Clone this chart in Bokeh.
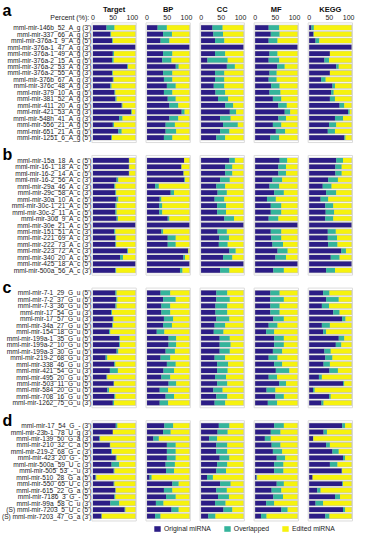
from bokeh.plotting import figure
from bokeh.models import ColumnDataSource, Range1d, Legend, LegendItem
from bokeh.core.properties import value
from bokeh.embed import file_html
from bokeh.resources import INLINE

columns = ["Target", "BP", "CC", "MF", "KEGG"]
panel_letters = ["a", "b", "c", "d"]
series_names = ["Original miRNA", "Overlapped", "Edited miRNA"]
x_ticks = [0, 50, 100]

a_labels = ["mml-mir-146b_52_A_g (3')", "mml-mir-337_66_A_g (3')", "mml-mir-376a-1_9_A_g (5')",
            "mml-mir-376a-1_47_A_g (3')", "mml-mir-376a-1_49_A_g (3')", "mml-mir-376a-2_15_A_g (5')",
            "mml-mir-376a-2_53_A_g (3')", "mml-mir-376a-2_55_A_g (3')", "mml-mir-376b_67_A_g (3')",
            "mml-mir-376c_48_A_g (3')", "mml-mir-379_10_A_g (5')", "mml-mir-381_52_A_g (3')",
            "mml-mir-411_20_A_g (5')", "mml-mir-421_53_A_g (3')", "mml-mir-548h_41_A_g (3')",
            "mml-mir-556_21_A_g (5')", "mml-mir-651_21_A_g (5')", "mml-mir-1251_6_A_g (5')"]
b_labels = ["mml-mir-15a_18_A_c (5')", "mml-mir-16-1_18_A_c (5')", "mml-mir-16-2_14_A_c (5')",
            "mml-mir-16-2_56_A_c (3')", "mml-mir-29a_46_A_c (3')", "mml-mir-29c_58_A_c (3')",
            "mml-mir-30a_10_A_c (5')", "mml-mir-30c-1_21_A_c (5')", "mml-mir-30c-2_11_A_c (5')",
            "mml-mir-30d_9_A_c (5')", "mml-mir-30e_21_A_c (5')", "mml-mir-151_51_A_c (3')",
            "mml-mir-221_69_A_c (3')", "mml-mir-222_73_A_c (3')", "mml-mir-223_72_A_c (3')",
            "mml-mir-340_20_A_c (5')", "mml-mir-425_18_A_c (5')", "mml-mir-500a_56_A_c (3')"]
c_labels = ["mml-mir-7-1_29_G_u (5')", "mml-mir-7-2_37_G_u (5')", "mml-mir-7-3_36_G_u (5')",
            "mml-mir-17_54_G_u (3')", "mml-mir-17_57_G_u (3')", "mml-mir-34a_27_G_u (5')",
            "mml-mir-154_18_G_u (5')", "mml-mir-199a-1_35_G_u (5')", "mml-mir-199a-2_10_G_u (5')",
            "mml-mir-199a-3_30_G_u (5')", "mml-mir-219-2_68_G_u (3')", "mml-mir-338_46_G_u (3')",
            "mml-mir-421_54_G_u (3')", "mml-mir-495_20_G_u (5')", "mml-mir-503_11_G_u (5')",
            "mml-mir-584_20_G_u (5')", "mml-mir-708_16_G_u (5')", "mml-mir-1262_75_G_u (3')"]
d_labels = ["mml-mir-17_54_G_- (3')", "mml-mir-23b-1_78_U_g (3')", "mml-mir-139_50_G_a (3')",
            "mml-mir-210_32_C_a (5')", "mml-mir-219-2_68_G_c (3')", "mml-mir-423_20_G_- (5')",
            "mml-mir-500a_59_U_c (3')", "mml-mir-505_53_-_u (3')", "mml-mir-510_28_G_a (5')",
            "mml-mir-550_65_U_c (3')", "mml-mir-615_22_G_a (5')", "mml-mir-7186_3_G_- (5')",
            "mml-mir-99a_58_C_u (3')", "(S) mml-mir-7203_5_U_c (5')", "(S) mml-mir-7203_47_G_a (3')"]

# Percent of original miRNA targets/terms and of overlapped ones (edited = remainder)
a_target_orig = [32, 41, 45, 100, 47, 45, 81, 45, 47, 41, 51, 53, 68, 90, 62, 47, 60, 43]
a_target_over = [19, 2, 2, 0, 3, 4, 2, 2, 2, 3, 2, 3, 2, 2, 8, 3, 8, 2]
a_bp_orig = [25, 38, 32, 100, 38, 36, 68, 38, 40, 47, 40, 49, 53, 82, 53, 44, 44, 40]
a_bp_over = [22, 21, 21, 0, 22, 22, 7, 22, 20, 21, 20, 19, 21, 7, 21, 22, 25, 20]
a_cc_orig = [27, 29, 33, 100, 33, 15, 61, 33, 33, 30, 34, 40, 57, 68, 45, 52, 45, 36]
a_cc_over = [24, 23, 22, 0, 24, 48, 19, 22, 22, 25, 23, 24, 19, 15, 25, 35, 22, 21]
a_mf_orig = [32, 37, 32, 100, 34, 32, 52, 34, 32, 38, 34, 42, 55, 70, 55, 42, 49, 36]
a_mf_over = [25, 21, 21, 0, 19, 25, 18, 17, 19, 20, 26, 20, 20, 13, 18, 20, 22, 21]
a_kegg_orig = [5, 10, 15, 100, 49, 36, 64, 49, 28, 55, 52, 49, 72, 92, 61, 47, 44, 83]
a_kegg_over = [6, 1, 9, 0, 0, 11, 6, 0, 11, 6, 6, 12, 11, 4, 19, 17, 17, 3]

b_target_orig = [85, 85, 85, 56, 50, 53, 56, 53, 53, 56, 100, 50, 53, 53, 81, 64, 100, 53]
b_target_over = [1, 1, 1, 4, 3, 2, 4, 3, 3, 3, 0, 3, 2, 2, 2, 7, 0, 2]
b_bp_orig = [88, 81, 86, 88, 19, 56, 30, 29, 29, 49, 100, 34, 49, 49, 97, 86, 100, 78]
b_bp_over = [0, 1, 1, 2, 9, 8, 4, 7, 7, 4, 0, 4, 19, 19, 1, 4, 0, 6]
b_cc_orig = [67, 57, 57, 45, 36, 39, 32, 38, 38, 55, 100, 39, 43, 42, 67, 52, 100, 45]
b_cc_over = [13, 17, 17, 23, 21, 22, 23, 21, 21, 23, 0, 22, 23, 21, 15, 22, 0, 22]
b_mf_orig = [58, 55, 55, 41, 34, 45, 28, 37, 37, 32, 100, 37, 38, 41, 53, 48, 100, 43]
b_mf_over = [18, 18, 18, 23, 23, 23, 21, 25, 25, 23, 0, 25, 24, 25, 24, 25, 0, 25]
b_kegg_orig = [64, 62, 62, 45, 32, 40, 27, 38, 39, 38, 100, 44, 44, 45, 76, 51, 100, 40]
b_kegg_over = [16, 15, 15, 23, 21, 24, 18, 19, 20, 19, 0, 19, 22, 22, 11, 21, 0, 21]

c_target_orig = [53, 55, 53, 43, 47, 45, 38, 62, 62, 56, 30, 50, 40, 32, 49, 34, 50, 47]
c_target_over = [3, 3, 3, 2, 2, 2, 3, 2, 2, 4, 4, 3, 19, 2, 1, 4, 3, 3]
c_bp_orig = [32, 38, 34, 34, 40, 38, 23, 51, 51, 44, 32, 47, 39, 34, 51, 30, 44, 30]
c_bp_over = [23, 30, 21, 21, 22, 21, 18, 18, 18, 22, 23, 21, 25, 21, 18, 20, 20, 20]
c_cc_orig = [36, 36, 34, 34, 36, 32, 30, 44, 44, 44, 32, 38, 38, 33, 38, 29, 36, 32]
c_cc_over = [26, 32, 28, 28, 31, 25, 23, 24, 26, 24, 25, 26, 25, 26, 24, 22, 26, 25]
c_mf_orig = [36, 36, 36, 36, 43, 32, 26, 45, 45, 42, 32, 45, 49, 32, 57, 27, 48, 30]
c_mf_over = [22, 32, 22, 22, 25, 21, 19, 23, 23, 22, 21, 19, 32, 20, 16, 21, 20, 22]
c_kegg_orig = [33, 40, 30, 57, 78, 30, 33, 70, 63, 36, 38, 34, 48, 23, 80, 9, 47, 29]
c_kegg_over = [15, 30, 17, 15, 8, 19, 7, 13, 13, 15, 17, 15, 20, 7, 3, 4, 4, 5]

d_target_orig = [54, 47, 15, 40, 43, 54, 44, 49, 6, 49, 53, 50, 41, 75, 20]
d_target_over = [4, 0, 2, 1, 2, 2, 18, 2, 2, 2, 1, 3, 21, 2, 1]
d_bp_orig = [41, 38, 15, 47, 47, 47, 44, 45, 6, 60, 40, 45, 21, 58, 19]
d_bp_over = [21, 18, 13, 21, 21, 21, 22, 19, 5, 15, 20, 23, 18, 17, 13]
d_cc_orig = [42, 39, 19, 36, 36, 44, 38, 36, 14, 45, 36, 40, 33, 53, 17]
d_cc_over = [25, 24, 19, 26, 26, 23, 24, 23, 14, 25, 25, 26, 25, 21, 17]
d_mf_orig = [45, 37, 23, 39, 42, 51, 45, 45, 3, 51, 39, 43, 26, 62, 14]
d_mf_over = [23, 23, 14, 21, 22, 20, 22, 22, 2, 17, 23, 23, 19, 15, 13]
d_kegg_orig = [78, 34, 9, 40, 55, 80, 49, 77, 8, 78, 19, 61, 15, 80, 38]
d_kegg_over = [7, 8, 1, 9, 15, 5, 18, 1, 0, 2, 8, 12, 18, 5, 10]

panels = [
    (a_labels, [(a_target_orig, a_target_over), (a_bp_orig, a_bp_over), (a_cc_orig, a_cc_over),
                (a_mf_orig, a_mf_over), (a_kegg_orig, a_kegg_over)]),
    (b_labels, [(b_target_orig, b_target_over), (b_bp_orig, b_bp_over), (b_cc_orig, b_cc_over),
                (b_mf_orig, b_mf_over), (b_kegg_orig, b_kegg_over)]),
    (c_labels, [(c_target_orig, c_target_over), (c_bp_orig, c_bp_over), (c_cc_orig, c_cc_over),
                (c_mf_orig, c_mf_over), (c_kegg_orig, c_kegg_over)]),
    (d_labels, [(d_target_orig, d_target_over), (d_bp_orig, d_bp_over), (d_cc_orig, d_cc_over),
                (d_mf_orig, d_mf_over), (d_kegg_orig, d_kegg_over)]),
]

# ---- layout constants ----
GAP = 2.5          # extra blank rows between panels
COL_STEP = 128     # x offset between column blocks (percent units)
FONT = "Liberation Sans"
TXT = "#1a1a1a"
C_ORIG, C_OVER, C_EDIT = "#2c1d86", "#35b49b", "#f6f20e"

data = dict(y=[], x0=[], x1=[], x2=[], x3=[])
bg = dict(y=[], left=[], right=[])
box = dict(left=[], right=[], top=[], bottom=[])
row_y, row_lab, panel_first = [], [], []
row = 0.0
for k, (labels, cols) in enumerate(panels):
    ys = [row + i for i in range(len(labels))]
    panel_first.append(ys[0])
    row_y += ys
    row_lab += labels
    for c, (orig, over) in enumerate(cols):
        off = c * COL_STEP
        box["left"].append(off - 2.5); box["right"].append(off + 102.5)
        box["top"].append(ys[0] - 0.75); box["bottom"].append(ys[-1] + 0.75)
        for y, o, v in zip(ys, orig, over):
            data["y"].append(y)
            data["x0"].append(off)
            data["x1"].append(off + o)
            data["x2"].append(off + o + v)
            data["x3"].append(off + 100)
            bg["y"].append(y); bg["left"].append(off - 1); bg["right"].append(off + 101.8)
    row = ys[-1] + 1 + GAP

p = figure(width=355, height=534, output_backend="svg", toolbar_location=None,
           x_range=Range1d(-219, 621.6), y_range=Range1d(78.34, -4.205),
           x_axis_location=None, y_axis_location=None,
           min_border=0, min_border_left=0, min_border_right=0,
           min_border_top=0, min_border_bottom=0)
p.grid.visible = False
p.outline_line_color = None
p.background_fill_color = "white"
p.border_fill_color = "white"

src = ColumnDataSource(data)
p.quad(left="left", right="right", top="top", bottom="bottom", source=ColumnDataSource(box),
       fill_color=None, line_color="#dcdcdc", line_width=1)
p.hbar(y="y", left="left", right="right", height=0.9, source=ColumnDataSource(bg),
       fill_color="#c6c6c6", line_color=None)
r1 = p.hbar(y="y", left="x0", right="x1", height=0.72, source=src, fill_color=C_ORIG, line_color=None)
r2 = p.hbar(y="y", left="x1", right="x2", height=0.72, source=src, fill_color=C_OVER, line_color=None)
r3 = p.hbar(y="y", left="x2", right="x3", height=0.72, source=src, fill_color=C_EDIT, line_color=None)

# miRNA row labels
p.text(x=[-3.5] * len(row_y), y=row_y, text=row_lab, text_align="right", text_baseline="middle",
       text_font=value(FONT), text_font_size="6.6px", text_color=TXT)

# 0 / 50 / 100 tick labels above every column block
tick_src = ColumnDataSource(dict(
    x=[c * COL_STEP + t for c in range(len(columns)) for t in x_ticks],
    text=[str(t) for c in range(len(columns)) for t in x_ticks],
    align=[{0: "center", 50: "center", 100: "right"}[t] for c in range(len(columns)) for t in x_ticks],
    dx=[{0: 0, 50: -1, 100: 3}[t] for c in range(len(columns)) for t in x_ticks],
))
p.text(x="x", y=-1.6, text="text", x_offset="dx", text_align="align", source=tick_src,
       text_baseline="alphabetic", text_font=value(FONT), text_font_size="7px", text_color=TXT)
p.text(x=[-9], y=[-1.6], text=["Percent (%):"], text_align="right", text_baseline="alphabetic",
       text_font=value(FONT), text_font_size="7px", text_color=TXT)

# column titles
p.text(x=[c * COL_STEP + 50 for c in range(len(columns))], y=[-2.86] * len(columns), text=columns,
       text_align="center", text_baseline="alphabetic", text_font=value(FONT),
       text_font_size="7.5px", text_font_style="bold", text_color="#111111")

# panel letters
letter_y = [-2.7] + [f - 0.85 for f in panel_first[1:]]
p.text(x=[-214] * len(panel_letters), y=letter_y, text=panel_letters, text_align="left",
       text_baseline="alphabetic", text_font=value(FONT), text_font_size="16px",
       text_font_style="bold", text_color="black")

legend = Legend(items=[LegendItem(label=series_names[0], renderers=[r1]),
                       LegendItem(label=series_names[1], renderers=[r2]),
                       LegendItem(label=series_names[2], renderers=[r3])],
                orientation="horizontal", location=(153, 2), glyph_width=8, glyph_height=7,
                label_height=7, label_width=10, label_standoff=3, spacing=12, padding=1, margin=0,
                label_text_font=FONT, label_text_font_size="6.8px", label_text_color=TXT,
                border_line_color=None, background_fill_alpha=0)
p.add_layout(legend, "center")

open("out.html", "w").write(file_html(p, INLINE))
